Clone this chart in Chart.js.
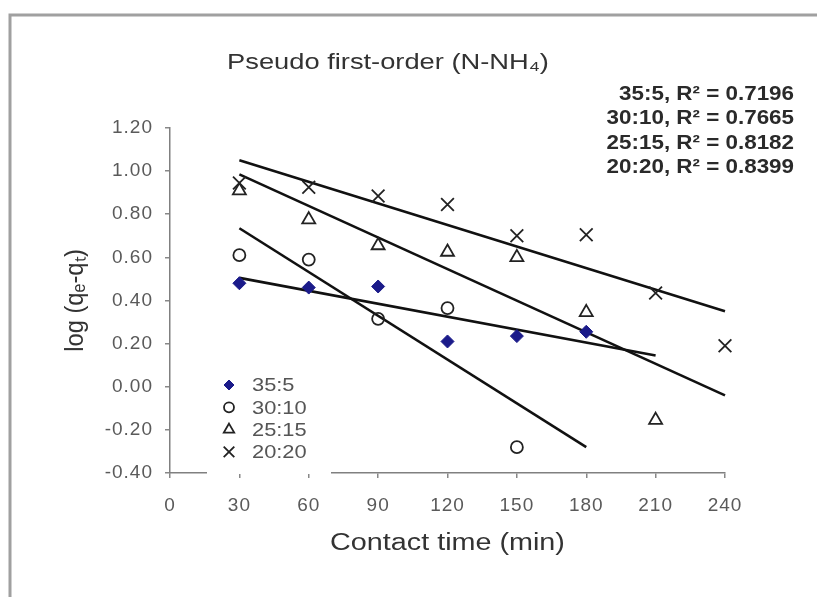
<!DOCTYPE html>
<html>
<head>
<meta charset="utf-8">
<script src="https://cdn.jsdelivr.net/npm/chart.js@4.4.1/dist/chart.umd.min.js"></script>
<style>
  html, body { margin: 0; padding: 0; background: #fff; }
  #wrap { width: 817px; height: 597px; position: relative; }
</style>
</head>
<body>
<div id="wrap"><canvas id="chart" width="817" height="597"></canvas></div>
<script>
// Dados
const tempos = [30, 60, 90, 120, 150, 180, 210, 240];
const serieNomes = ['35:5', '30:10', '25:15', '20:20'];
const s35_5  = [0.48, 0.46, 0.465, 0.21, 0.235, 0.255, null, null];
const s30_10 = [0.61, 0.59, 0.315, 0.365, -0.28, null, null, null];
const s25_15 = [0.91, 0.775, 0.655, 0.625, 0.60, 0.345, -0.155, null];
const s20_20 = [0.945, 0.925, 0.885, 0.845, 0.70, 0.705, 0.435, 0.19];

// Linhas de tendência (início / fim)
const trendX0 = [30, 30, 30, 30];
const trendY0 = [0.505, 0.735, 0.985, 1.05];
const trendX1 = [210, 180, 240, 240];
const trendY1 = [0.145, -0.28, -0.04, 0.35];

const r2Textos = ['35:5, R² = 0.7196', '30:10, R² = 0.7665', '25:15, R² = 0.8182', '20:20, R² = 0.8399'];
const tituloTexto = 'Pseudo first-order (N-NH₄)';
const xTitulo = 'Contact time (min)';
const yTitulo = 'log (qₑ-qₜ)';
const xTicks = [0, 30, 60, 90, 120, 150, 180, 210, 240];

const FONTE = "'Liberation Sans', Arial, sans-serif";

const ESTILOS = [
  { pointStyle: 'rectRot',  radius: 6.5, leg: 5,   fill: '#1b1b8a', stroke: '#1b1b8a', width: 1 },
  { pointStyle: 'circle',   radius: 6,   leg: 5,   fill: 'rgba(0,0,0,0)', stroke: '#222', width: 1.8 },
  { pointStyle: 'triangle', radius: 7.5, leg: 6,   fill: 'rgba(0,0,0,0)', stroke: '#222', width: 1.8 },
  { pointStyle: 'crossRot', radius: 9,   leg: 7.5, fill: 'rgba(0,0,0,0)', stroke: '#222', width: 1.8 },
];

function pontos(valores) {
  return tempos.map((t, i) => ({ x: t, y: valores[i] })).filter(p => p.y !== null);
}

const series = [s35_5, s30_10, s25_15, s20_20];

const datasets = [];
series.forEach((s, i) => {
  const e = ESTILOS[i];
  datasets.push({
    label: serieNomes[i],
    data: pontos(s),
    showLine: false,
    clip: false,
    pointStyle: e.pointStyle,
    pointRadius: e.radius,
    backgroundColor: e.fill,
    borderColor: e.stroke,
    pointBorderWidth: e.width,
  });
});
series.forEach((s, i) => {
  datasets.push({
    label: 'trend ' + serieNomes[i],
    data: [{ x: trendX0[i], y: trendY0[i] }, { x: trendX1[i], y: trendY1[i] }],
    showLine: true,
    clip: false,
    pointRadius: 0,
    borderColor: '#111',
    borderWidth: 2.6,
    fill: false,
  });
});

// texto esticado na horizontal, como na figura original
function textoEsticado(ctx, txt, x, y, align, sx) {
  ctx.save();
  ctx.translate(x, y);
  ctx.scale(sx, 1);
  ctx.textAlign = align;
  ctx.fillText(txt, 0, 0);
  ctx.restore();
}

// Moldura, títulos, R² e legenda desenhados à mão
const anotacoes = {
  id: 'anotacoes',
  beforeDraw(chart) {
    const ctx = chart.ctx;
    ctx.save();
    ctx.fillStyle = '#fff';
    ctx.fillRect(0, 0, chart.width, chart.height);
    ctx.strokeStyle = '#a0a0a0';
    ctx.lineWidth = 3;
    ctx.beginPath();
    ctx.moveTo(10, chart.height);
    ctx.lineTo(10, 15);
    ctx.lineTo(chart.width, 15);
    ctx.stroke();
    ctx.restore();
    ctx.letterSpacing = '1px';
  },
  afterDraw(chart) {
    const ctx = chart.ctx;
    const area = chart.chartArea;
    ctx.save();
    ctx.letterSpacing = '0px';
    ctx.textBaseline = 'middle';
    // título
    ctx.fillStyle = '#333';
    ctx.font = '22px ' + FONTE;
    textoEsticado(ctx, tituloTexto, 388, 63, 'center', 1.24);
    // eixo x
    ctx.font = '23px ' + FONTE;
    textoEsticado(ctx, xTitulo, (area.left + area.right) / 2, 544, 'center', 1.25);
    // eixo y (rodado)
    ctx.save();
    ctx.translate(76, (area.top + area.bottom) / 2);
    ctx.rotate(-Math.PI / 2);
    ctx.scale(1.08, 1.2);
    ctx.font = '22px ' + FONTE;
    ctx.textAlign = 'center';
    ctx.fillText(yTitulo, 0, 0);
    ctx.restore();
    // R²
    ctx.font = 'bold 20px ' + FONTE;
    ctx.fillStyle = '#2a2a2a';
    r2Textos.forEach((t, i) => textoEsticado(ctx, t, 794, 94 + i * 24.5, 'right', 1.12));
    // legenda com fundo branco
    ctx.fillStyle = '#fff';
    ctx.fillRect(207, 368, 124, 106);
    ctx.font = '19px ' + FONTE;
    serieNomes.forEach((nome, i) => {
      const e = ESTILOS[i];
      const y = 385 + i * 22.3;
      ctx.fillStyle = e.fill;
      ctx.strokeStyle = e.stroke;
      ctx.lineWidth = e.width;
      Chart.helpers.drawPoint(ctx, { pointStyle: e.pointStyle, radius: e.leg, borderWidth: e.width }, 229, y);
      ctx.fillStyle = '#555';
      textoEsticado(ctx, nome, 252, y + 1, 'left', 1.15);
    });
    ctx.restore();
  },
};

Chart.defaults.font.family = FONTE;
Chart.defaults.color = '#555';

new Chart(document.getElementById('chart'), {
  type: 'scatter',
  data: { datasets },
  options: {
    responsive: false,
    animation: false,
    layout: { padding: { left: 62, right: 92, top: 128, bottom: 40 } },
    plugins: {
      legend: { display: false },
      tooltip: { enabled: false },
      title: { display: false },
    },
    scales: {
      x: {
        type: 'linear',
        min: 0,
        max: 240,
        afterBuildTicks: scale => { scale.ticks = xTicks.map(v => ({ value: v })); },
        afterFit: scale => { scale.height = 84; },
        grid: { display: true, drawOnChartArea: false, drawTicks: true, tickLength: 5, color: '#888', lineWidth: 1.5 },
        border: { display: true, color: '#808080', width: 1.5 },
        ticks: { font: { size: 19 }, color: '#5a5a5a', padding: 16, maxRotation: 0 },
        title: { display: false },
      },
      y: {
        type: 'linear',
        min: -0.4,
        max: 1.2,
        ticks: { stepSize: 0.2, font: { size: 19 }, color: '#5a5a5a', padding: 12, callback: v => v.toFixed(2) },
        afterFit: scale => { scale.width = 108; },
        grid: { display: true, drawOnChartArea: false, drawTicks: true, tickLength: 5, color: '#888', lineWidth: 1.5 },
        border: { display: true, color: '#808080', width: 1.5 },
        title: { display: false },
      },
    },
  },
  plugins: [anotacoes],
});
</script>
</body>
</html>
